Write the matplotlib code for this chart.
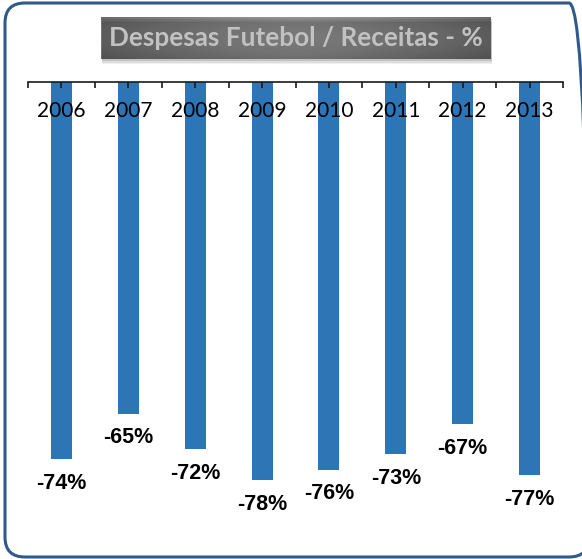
import numpy as np
import matplotlib
matplotlib.use('Agg')
import matplotlib.pyplot as plt
from matplotlib.patches import FancyBboxPatch
from matplotlib.transforms import IdentityTransform

# dados
anos = ['2006', '2007', '2008', '2009', '2010', '2011', '2012', '2013']
valores = [-74, -65, -72, -78, -76, -73, -67, -77]
rotulos = ['-74%', '-65%', '-72%', '-78%', '-76%', '-73%', '-67%', '-77%']
titulo = 'Despesas Futebol / Receitas - %'

W, H = 582, 559
fig = plt.figure(figsize=(W / 100, H / 100), dpi=100)

# eixo principal (linha de categorias no topo)
ax = fig.add_axes([28 / W, 1 - 541 / H, 535 / W, 459 / H])
x = np.arange(len(anos))
ax.bar(x, valores, width=0.315, color='#2e75b6', zorder=1)
ax.set_xlim(-0.5, len(anos) - 0.5)
ax.set_ylim(-90, 0)

for s in ['left', 'right', 'bottom']:
    ax.spines[s].set_visible(False)
ax.spines['top'].set_color('#1a1a1a')
ax.spines['top'].set_linewidth(1.2)
ax.set_yticks([])
ax.xaxis.set_ticks_position('top')
ax.set_xticks(np.arange(-0.5, len(anos), 0.5))
ax.tick_params(axis='x', direction='in', length=4.5, width=1.2, color='#1a1a1a',
               labeltop=False, labelbottom=False)

# anos logo abaixo da linha
for i, a in enumerate(anos):
    ax.annotate(a, xy=(i, 1), xycoords=('data', 'axes fraction'),
                xytext=(0, -21), textcoords='offset points',
                ha='center', va='center', fontsize=15, family='Lato',
                color='black', zorder=3)

# rótulos de valor
for i, (v, r) in enumerate(zip(valores, rotulos)):
    ax.annotate(r, xy=(i, v), xytext=(0, -17.5), textcoords='offset points',
                ha='center', va='center', fontsize=15.5, fontweight='bold',
                family='Liberation Sans', color='black', zorder=3)

# caixa do título com gradiente
bx, by, bw, bh = 101, 17, 390, 42
for k, a in [(5, 0.06), (3.5, 0.08), (2, 0.12)]:
    sombra = FancyBboxPatch((bx + 1, H - by - bh - k), bw, bh, boxstyle='square,pad=0',
                            transform=IdentityTransform(), facecolor='#000000',
                            alpha=a, edgecolor='none')
    fig.patches.append(sombra)
tax = fig.add_axes([bx / W, 1 - (by + bh) / H, bw / W, bh / H])
gx = np.linspace(-1, 1, 200)
gy = np.linspace(-1, 1, 40)
GX, GY = np.meshgrid(gx, gy)
grad = 0.63 - 0.15 * np.abs(GX) ** 1.5 - 0.06 * np.abs(GY) ** 2
tax.imshow(grad, cmap='gray', vmin=0, vmax=1, aspect='auto', extent=[0, 1, 0, 1])
tax.axis('off')
tax.text(0.5, 0.5, titulo, ha='center', va='center', color='white',
         fontsize=18.8, fontweight='bold', family='Lato', transform=tax.transAxes)

# moldura arredondada (lado direito fica fora da imagem)
moldura = FancyBboxPatch((5, 2), 584, 554, boxstyle='round,pad=0,rounding_size=20',
                         transform=IdentityTransform(), facecolor='none',
                         edgecolor='#2f5b8c', linewidth=2.2)
fig.patches.append(moldura)

fig.savefig('out.png', dpi=100)
